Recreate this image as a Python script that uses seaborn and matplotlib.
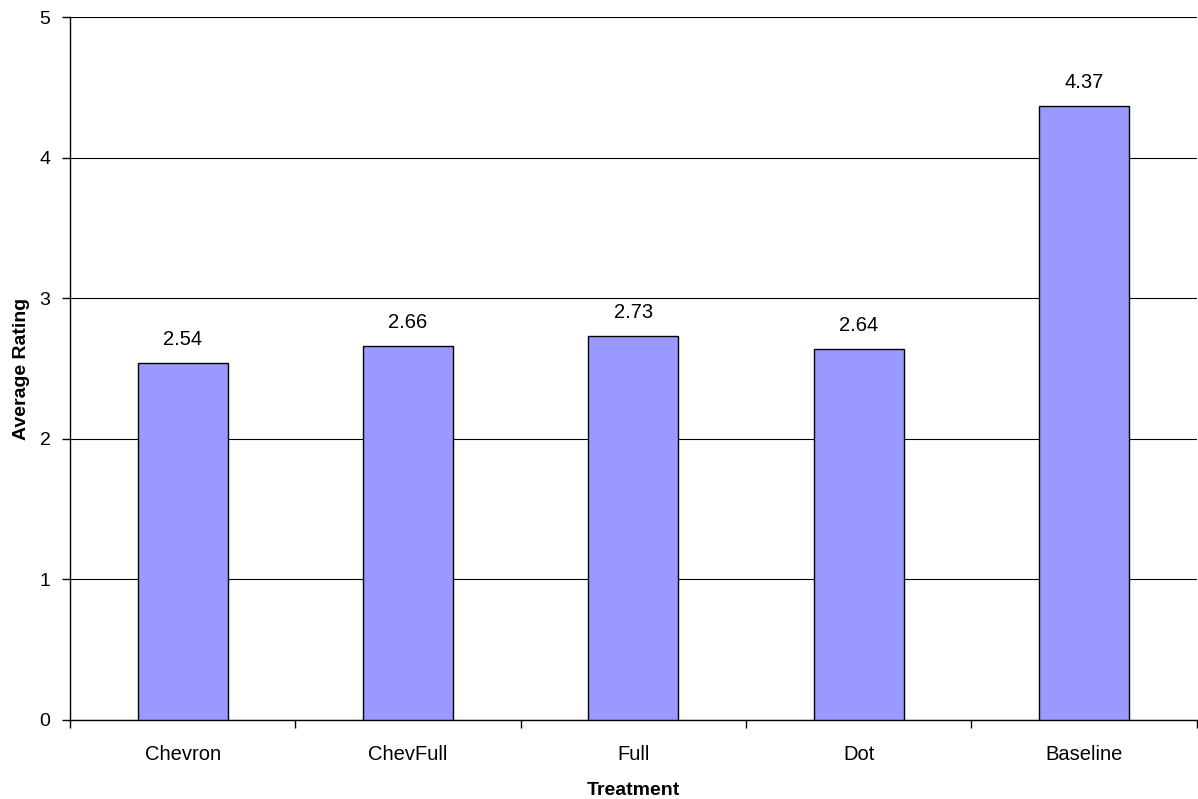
import numpy as np
import pandas as pd
import matplotlib
matplotlib.use("Agg")
import matplotlib.pyplot as plt
import seaborn as sns

# Data
treatments = ["Chevron", "ChevFull", "Full", "Dot", "Baseline"]
ratings = [2.54, 2.66, 2.73, 2.64, 4.37]

df = pd.DataFrame({"Treatment": treatments, "Average Rating": ratings})

sns.set_theme(style="white")
plt.rcParams["font.family"] = ["Liberation Sans", "DejaVu Sans"]
plt.rcParams["text.color"] = "black"
plt.rcParams["axes.labelcolor"] = "black"
plt.rcParams["xtick.color"] = "black"
plt.rcParams["ytick.color"] = "black"

fig = plt.figure(figsize=(11.98, 7.99), dpi=100)
ax = fig.add_axes([0.0584, 0.0989, 0.9406, 0.8798])

sns.barplot(data=df, x="Treatment", y="Average Rating", color="#9999FF",
            saturation=1, width=0.4, edgecolor="black", linewidth=1, ax=ax, zorder=3)

for i, v in enumerate(ratings):
    ax.text(i, v + 0.1, f"{v:.2f}", ha="center", va="bottom", fontsize=14.5, color="black")

ax.set_ylim(0, 5)
ax.set_xlim(-0.5, len(treatments) - 0.5)
ax.set_yticks(range(0, 6))
ax.yaxis.grid(True, color="black", linewidth=0.8)
ax.set_axisbelow(True)

# ticks on the category boundaries
ax.set_xticks(np.arange(-0.5, len(treatments), 1), minor=True)
ax.tick_params(axis="x", which="major", length=0, pad=18, labelsize=14.5)
ax.tick_params(axis="x", which="minor", direction="out", length=6, width=1, color="black", bottom=True)
ax.tick_params(axis="y", direction="out", length=6, width=1, color="black", left=True, labelsize=14, pad=8)

for s in ["top", "right"]:
    ax.spines[s].set_visible(False)
for s in ["left", "bottom"]:
    ax.spines[s].set_color("black")
    ax.spines[s].set_linewidth(1)

ax.set_xlabel("Treatment", fontsize=14, fontweight="bold", labelpad=13)
ax.set_ylabel("Average Rating", fontsize=14, fontweight="bold", labelpad=7)

fig.savefig("out.png", dpi=100)
